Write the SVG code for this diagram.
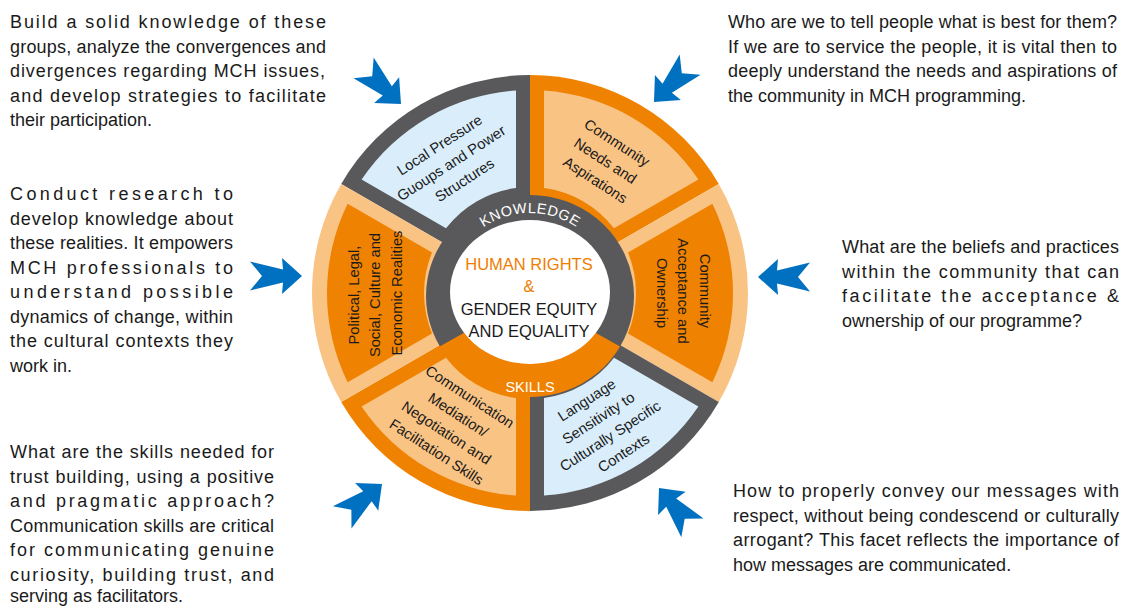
<svg xmlns="http://www.w3.org/2000/svg" width="1123" height="606" viewBox="0 0 1123 606">
  <style>
    .p { font-family: "Liberation Sans", Arial, sans-serif; font-size: 18px; fill: #1a1a1a; }
    .seg { font-family: "Liberation Sans", Arial, sans-serif; font-size: 14.7px; fill: #1a1a1a; text-anchor: middle; }
    .ctr { font-family: "Liberation Sans", Arial, sans-serif; font-size: 16.5px; text-anchor: middle; }
    .band { font-family: "Liberation Sans", Arial, sans-serif; font-size: 14.5px; fill: #ffffff; }
    .arrow { fill: #0070c0; }
    .gray { fill: #59595b; }
    .orange { fill: #ef8200; }
    .lorange { fill: #f9c384; }
    .lblue { fill: #d9eefa; }
  </style>
  <defs>
    <!-- one 60-degree wedge (90..150 deg) and its inset panel; the others are rotated copies -->
    <path id="wedge" d="M530,293 L341.2,184 A218,218 0 0 1 530,75 Z"/>
    <path id="panel" d="M361.61,179.62 A203,203 0 0 1 516,90.48 L516,187.93 A106,106 0 0 0 446,228.34 Z"/>
    <!-- swallow-tail arrow pointing along +x, tip at origin -->
    <path id="arr" d="M0,0 L-20,-18 L-19,-6.5 L-52,-14.5 L-40,0 L-52,14.5 L-19,6.5 L-20,18 Z"/>
    <path id="knowArc" d="M458.12,254.5 A83,83 0 0 1 601.88,254.5"/>
  </defs>

  <!-- wheel segments -->
  <g id="seg-local-pressure">
    <use href="#wedge" class="gray"/>
    <use href="#panel" class="lblue"/>
    <text class="seg" transform="translate(453,162) rotate(-33)">
      <tspan x="0" y="-16.5">Local Pressure</tspan>
      <tspan x="0" y="5">Guoups and Power</tspan>
      <tspan x="0" y="26.5">Structures</tspan>
    </text>
  </g>
  <g id="seg-community-needs">
    <use href="#wedge" class="orange" transform="rotate(60 530 293)"/>
    <use href="#panel" class="lorange" transform="rotate(60 530 293)"/>
    <text class="seg" transform="translate(607,162) rotate(33)">
      <tspan x="0" y="-16.5">Community</tspan>
      <tspan x="0" y="5">Needs and</tspan>
      <tspan x="0" y="26.5">Aspirations</tspan>
    </text>
  </g>
  <g id="seg-community-acceptance">
    <use href="#wedge" class="lorange" transform="rotate(120 530 293)"/>
    <use href="#panel" class="orange" transform="rotate(120 530 293)"/>
    <text class="seg" transform="translate(683,293) rotate(90)">
      <tspan x="0" y="-16.5">Community</tspan>
      <tspan x="0" y="5">Acceptance and</tspan>
      <tspan x="0" y="26.5">Ownership</tspan>
    </text>
  </g>
  <g id="seg-language">
    <use href="#wedge" class="gray" transform="rotate(180 530 293)"/>
    <use href="#panel" class="lblue" transform="rotate(180 530 293)"/>
    <text class="seg" transform="translate(606,426) rotate(-33)">
      <tspan x="0" y="-27.25">Language</tspan>
      <tspan x="0" y="-5.75">Sensitivity to</tspan>
      <tspan x="0" y="15.75">Culturally Specific</tspan>
      <tspan x="0" y="37.25">Contexts</tspan>
    </text>
  </g>
  <g id="seg-communication">
    <use href="#wedge" class="orange" transform="rotate(240 530 293)"/>
    <use href="#panel" class="lorange" transform="rotate(240 530 293)"/>
    <text class="seg" transform="translate(454,425) rotate(33)">
      <tspan x="0" y="-27.25">Communication</tspan>
      <tspan x="0" y="-5.75">Mediation/</tspan>
      <tspan x="0" y="15.75">Negotiation and</tspan>
      <tspan x="0" y="37.25">Facilitation Skills</tspan>
    </text>
  </g>
  <g id="seg-realities">
    <use href="#wedge" class="lorange" transform="rotate(300 530 293)"/>
    <use href="#panel" class="orange" transform="rotate(300 530 293)"/>
    <text class="seg" transform="translate(375,293) rotate(-90)">
      <tspan x="0" y="-16.5">Political, Legal,</tspan>
      <tspan x="0" y="5">Social, Culture and</tspan>
      <tspan x="0" y="26.5">Economic Realities</tspan>
    </text>
  </g>

  <!-- inner ring: knowledge (upper) / skills (lower) -->
  <g id="ring">
    <path class="gray" d="M530,296 L439.94,346.5 A104,101 0 1 1 620.06,346.5 Z"/>
    <path class="orange" d="M530,296 L620.06,346.5 A104,101 0 0 1 439.94,346.5 Z"/>
    <ellipse cx="530" cy="292" rx="80" ry="72" fill="#ffffff"/>
    <text class="band" letter-spacing="0.5"><textPath href="#knowArc" startOffset="50%" text-anchor="middle">KNOWLEDGE</textPath></text>
    <text class="band" x="530" y="392" text-anchor="middle">SKILLS</text>
  </g>

  <!-- hub -->
  <g id="hub">
    <text class="ctr" x="529" y="270" fill="#ef7d00">HUMAN RIGHTS</text>
    <text class="ctr" x="529" y="292" fill="#ef7d00">&amp;</text>
    <text class="ctr" x="529" y="315" fill="#1a1a1a">GENDER EQUITY</text>
    <text class="ctr" x="529" y="337" fill="#1a1a1a">AND EQUALITY</text>
  </g>

  <!-- arrows pointing at the wheel -->
  <g id="connectors">
    <use href="#arr" class="arrow" transform="translate(401,104) rotate(44)"/>
    <use href="#arr" class="arrow" transform="translate(654,102) rotate(134)"/>
    <use href="#arr" class="arrow" transform="translate(302,276)"/>
    <use href="#arr" class="arrow" transform="translate(758,277) rotate(180)"/>
    <use href="#arr" class="arrow" transform="translate(382,484) rotate(-40)"/>
    <use href="#arr" class="arrow" transform="translate(659,488) rotate(-130)"/>
  </g>

  <!-- explanatory paragraphs -->
  <g id="note-local-pressure">
    <text class="p" x="10" y="28" textLength="316" lengthAdjust="spacing">Build a solid knowledge of these</text>
    <text class="p" x="10" y="53" textLength="316" lengthAdjust="spacing">groups, analyze the convergences and</text>
    <text class="p" x="10" y="77" textLength="315" lengthAdjust="spacing">divergences regarding MCH issues,</text>
    <text class="p" x="10" y="102" textLength="316" lengthAdjust="spacing">and develop strategies to facilitate</text>
    <text class="p" x="10" y="126">their participation.</text>
  </g>
  <g id="note-community-needs">
    <text class="p" x="728" y="28" textLength="389" lengthAdjust="spacing">Who are we to tell people what is best for them?</text>
    <text class="p" x="728" y="53" textLength="389" lengthAdjust="spacing">If we are to service the people, it is vital then to</text>
    <text class="p" x="728" y="77" textLength="389" lengthAdjust="spacing">deeply understand the needs and aspirations of</text>
    <text class="p" x="728" y="102">the community in MCH programming.</text>
  </g>
  <g id="note-realities">
    <text class="p" x="10" y="200" textLength="223" lengthAdjust="spacing">Conduct research to</text>
    <text class="p" x="10" y="224.5" textLength="223" lengthAdjust="spacing">develop knowledge about</text>
    <text class="p" x="10" y="249" textLength="223" lengthAdjust="spacing">these realities. It empowers</text>
    <text class="p" x="10" y="273.5" textLength="223" lengthAdjust="spacing">MCH professionals to</text>
    <text class="p" x="10" y="298" textLength="223" lengthAdjust="spacing">understand possible</text>
    <text class="p" x="10" y="322.5" textLength="223" lengthAdjust="spacing">dynamics of change, within</text>
    <text class="p" x="10" y="347" textLength="223" lengthAdjust="spacing">the cultural contexts they</text>
    <text class="p" x="10" y="371.5">work in.</text>
  </g>
  <g id="note-community-acceptance">
    <text class="p" x="842" y="253" textLength="277" lengthAdjust="spacing">What are the beliefs and practices</text>
    <text class="p" x="842" y="277.5" textLength="277" lengthAdjust="spacing">within the community that can</text>
    <text class="p" x="842" y="302" textLength="277" lengthAdjust="spacing">facilitate the acceptance &amp;</text>
    <text class="p" x="842" y="326.5">ownership of our programme?</text>
  </g>
  <g id="note-communication">
    <text class="p" x="10" y="458" textLength="264" lengthAdjust="spacing">What are the skills needed for</text>
    <text class="p" x="10" y="482.5" textLength="264" lengthAdjust="spacing">trust building, using a positive</text>
    <text class="p" x="10" y="507" textLength="264" lengthAdjust="spacing">and pragmatic approach?</text>
    <text class="p" x="10" y="531.5" textLength="264" lengthAdjust="spacing">Communication skills are critical</text>
    <text class="p" x="10" y="556" textLength="264" lengthAdjust="spacing">for communicating genuine</text>
    <text class="p" x="10" y="580.5" textLength="264" lengthAdjust="spacing">curiosity, building trust, and</text>
    <text class="p" x="10" y="602">serving as facilitators.</text>
  </g>
  <g id="note-language">
    <text class="p" x="733" y="497" textLength="386" lengthAdjust="spacing">How to properly convey our messages with</text>
    <text class="p" x="733" y="521.5" textLength="386" lengthAdjust="spacing">respect, without being condescend or culturally</text>
    <text class="p" x="733" y="546" textLength="386" lengthAdjust="spacing">arrogant? This facet reflects the importance of</text>
    <text class="p" x="733" y="570.5">how messages are communicated.</text>
  </g>
</svg>
